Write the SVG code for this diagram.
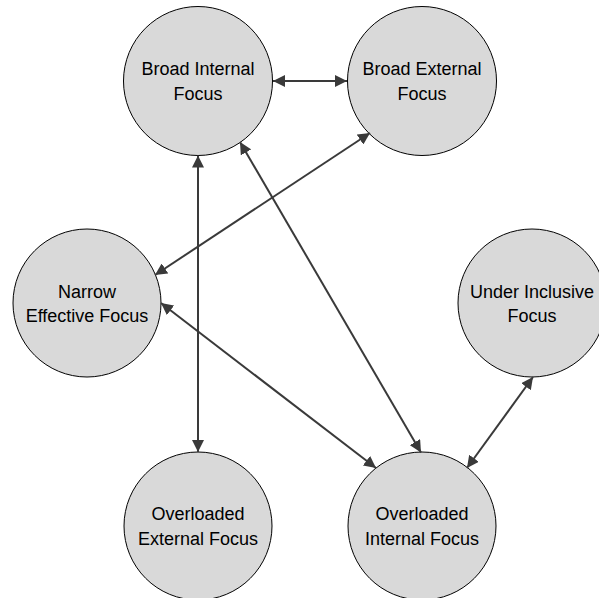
<svg xmlns="http://www.w3.org/2000/svg" width="599" height="598" viewBox="0 0 599 598">
<style>
.node circle{fill:#d9d9d9;stroke:#000;stroke-width:1}
.node text{font-family:"Liberation Sans",Arial,sans-serif;font-size:18px;fill:#000;text-anchor:middle}
.conn line{stroke:#3a3a3a;stroke-width:2;marker-start:url(#ah);marker-end:url(#ah)}
</style>
<defs>
<marker id="ah" markerUnits="userSpaceOnUse" markerWidth="12" markerHeight="12" viewBox="0 0 10 10" refX="10" refY="5" orient="auto-start-reverse">
<path d="M0,0 L10,5 L0,10 Z" fill="#3a3a3a"/>
</marker>
</defs>
<rect width="599" height="598" fill="#fff"/>
<g id="n-broad-internal" class="node"><circle cx="198" cy="81" r="74.5"/><text x="198" y="75">Broad Internal</text><text x="198" y="99.5">Focus</text></g>
<g id="n-broad-external" class="node"><circle cx="422" cy="81" r="74.5"/><text x="422" y="75">Broad External</text><text x="422" y="99.5">Focus</text></g>
<g id="n-narrow-effective" class="node"><circle cx="87" cy="303" r="74"/><text x="87" y="297.5">Narrow</text><text x="87" y="322">Effective Focus</text></g>
<g id="n-under-inclusive" class="node"><circle cx="532" cy="303" r="74"/><text x="532" y="297.5">Under Inclusive</text><text x="532" y="322">Focus</text></g>
<g id="n-overloaded-external" class="node"><circle cx="198" cy="526" r="74"/><text x="198" y="520">Overloaded</text><text x="198" y="544.5">External Focus</text></g>
<g id="n-overloaded-internal" class="node"><circle cx="422" cy="526" r="74"/><text x="422" y="520">Overloaded</text><text x="422" y="544.5">Internal Focus</text></g>
<g id="connectors" class="conn">
<line x1="273" y1="81" x2="347" y2="81"/>
<line x1="370" y1="133" x2="155" y2="275"/>
<line x1="198" y1="155.5" x2="198" y2="452"/>
<line x1="240" y1="142" x2="421" y2="452.5"/>
<line x1="161" y1="303" x2="376" y2="468"/>
<line x1="533" y1="377" x2="467" y2="468"/>
</g>
</svg>
